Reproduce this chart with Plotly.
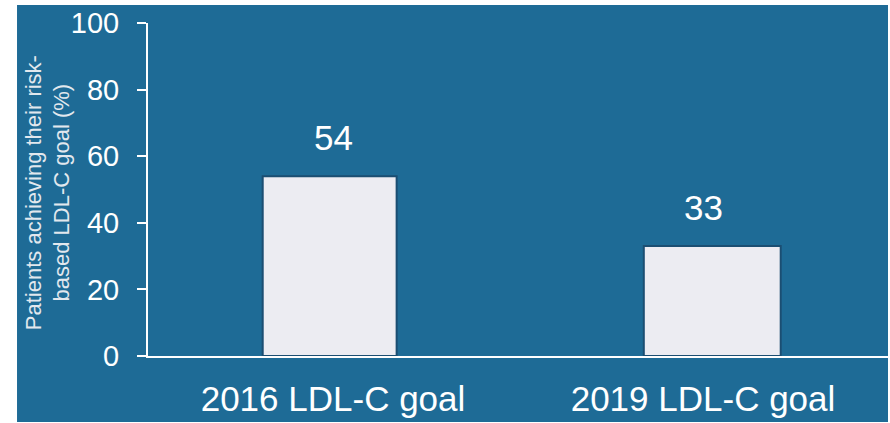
import plotly.graph_objects as go

# Share of patients reaching their risk-based LDL-C target
categories = ["2016 LDL-C goal", "2019 LDL-C goal"]
values = [54, 33]
y_ticks = [0, 20, 40, 60, 80, 100]
y_title = "Patients achieving their risk-<br>based LDL-C goal (%)"

BG = "#1e6b96"
FONT = "Arial, Liberation Sans, sans-serif"

fig = go.Figure()
fig.add_trace(go.Bar(
    x=categories,
    y=values,
    width=[0.362, 0.37],
    offset=[-0.19, -0.16],
    marker=dict(color="#ececf2", line=dict(color="#1b4e72", width=2)),
    hoverinfo="skip",
))

# value labels above each bar
for cat, val in zip(categories, values):
    fig.add_annotation(
        x=cat, y=val, text=str(val), showarrow=False,
        xanchor="center", yanchor="bottom", yshift=17,
        font=dict(family=FONT, size=35, color="white"),
    )

# rotated y-axis title
fig.add_annotation(
    x=-0.136, y=0.49, xref="paper", yref="paper",
    text=y_title, textangle=-90, showarrow=False,
    xanchor="center", yanchor="middle",
    font=dict(family=FONT, size=22, color="#e2e8ee"),
)

# blue panel behind the chart
fig.add_shape(
    type="rect", xref="paper", yref="paper",
    x0=-0.177, x1=1.0, y0=-0.198, y1=1.054,
    fillcolor=BG, line=dict(width=0), layer="below",
)

fig.update_layout(
    width=890, height=423,
    margin=dict(l=148, r=2, t=23, b=67),
    paper_bgcolor="white",
    plot_bgcolor=BG,
    showlegend=False,
    bargap=0.6,
    font=dict(family=FONT, color="white"),
)
fig.update_xaxes(
    range=[-0.5, 1.5],
    showline=True, linecolor="white", linewidth=2,
    showgrid=False, zeroline=False, ticks="",
    ticklabelstandoff=11,
    tickfont=dict(family=FONT, size=35, color="white"),
    layer="below traces",
)
fig.update_yaxes(
    range=[0, 100], tickvals=y_ticks,
    showline=True, linecolor="white", linewidth=2,
    showgrid=False, zeroline=False,
    ticks="outside", ticklen=9, tickwidth=2, tickcolor="white",
    ticklabelstandoff=12,
    tickfont=dict(family=FONT, size=29, color="white"),
    layer="below traces",
)

fig.write_html("out.html")
